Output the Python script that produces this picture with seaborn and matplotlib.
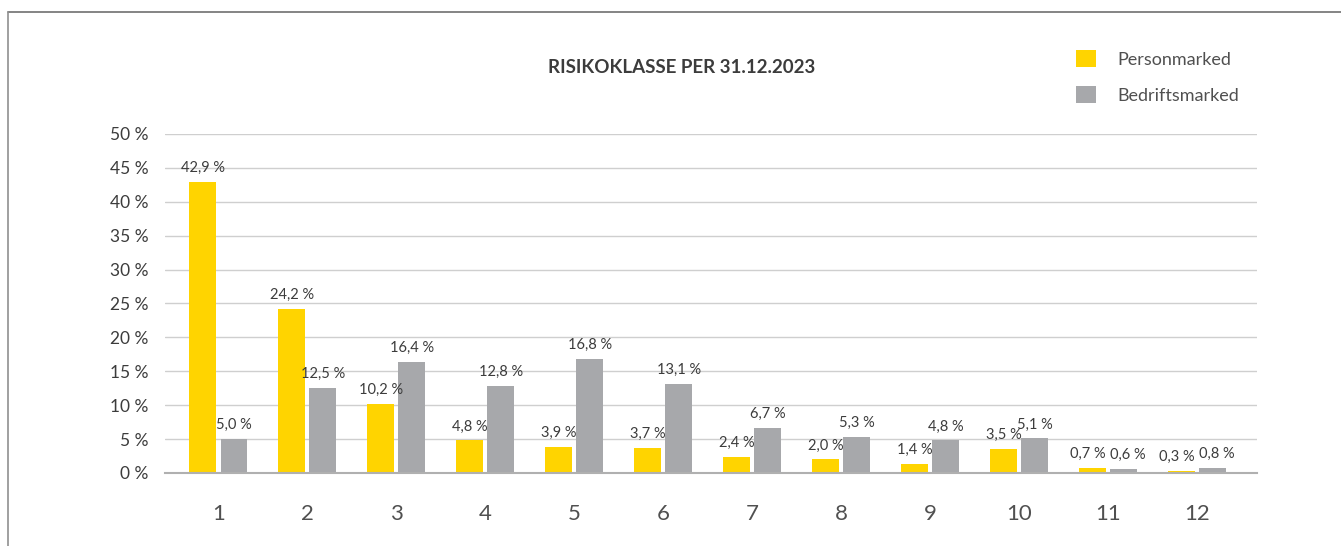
import matplotlib
matplotlib.use("Agg")
import matplotlib.pyplot as plt
from matplotlib.lines import Line2D
from matplotlib.patches import Patch
import pandas as pd
import seaborn as sns

classes = [str(i) for i in range(1, 13)]
personmarked = [42.9, 24.2, 10.2, 4.8, 3.9, 3.7, 2.4, 2.0, 1.4, 3.5, 0.7, 0.3]
bedriftsmarked = [5.0, 12.5, 16.4, 12.8, 16.8, 13.1, 6.7, 5.3, 4.8, 5.1, 0.6, 0.8]
series_names = ["Personmarked", "Bedriftsmarked"]
yticks = [0, 5, 10, 15, 20, 25, 30, 35, 40, 45, 50]

colors = {"Personmarked": "#FFD400", "Bedriftsmarked": "#A7A8AB"}
text_color = "#3C3C3C"

df = pd.DataFrame({
    "klasse": classes * 2,
    "serie": [series_names[0]] * 12 + [series_names[1]] * 12,
    "verdi": personmarked + bedriftsmarked,
})

sns.set_style("white")
plt.rcParams["font.family"] = ["Lato", "DejaVu Sans"]

fig = plt.figure(figsize=(13.41, 5.46), dpi=100)
ax = fig.add_axes([0.123, 0.1337, 0.814, 0.6209])

sns.barplot(
    data=df, x="klasse", y="verdi", hue="serie", order=classes,
    hue_order=series_names, palette=colors, width=0.7, gap=0.14,
    saturation=1, legend=False, linewidth=0, ax=ax,
)

# value labels; nudge apart where both bars in a group are tiny
for k, container in enumerate(ax.containers):
    vals = [b.get_height() for b in container]
    labels = [f"{v:.1f} %".replace(".", ",") for v in vals]
    texts = ax.bar_label(container, labels=labels, padding=5, fontsize=10.5, color=text_color)
    for i, t in enumerate(texts):
        if personmarked[i] < 1 and bedriftsmarked[i] < 1:
            t.xyann = (-3 if k == 0 else 3, 5)

ax.set_xlim(-0.6, 11.67)
ax.set_ylim(0, 50)
ax.set_yticks(yticks)
ax.set_yticklabels([f"{t} %" for t in yticks], fontsize=12.5, color=text_color)
ax.tick_params(axis="x", labelsize=16, colors="#505050", pad=22, length=0)
ax.tick_params(axis="y", length=0, pad=12)
ax.set_xlabel("")
ax.set_ylabel("")
ax.yaxis.grid(True, color="#CFCFCF", linewidth=1)
ax.set_axisbelow(True)
for side in ["top", "right", "left"]:
    ax.spines[side].set_visible(False)
ax.spines["bottom"].set_color("#B0B0B0")
ax.spines["bottom"].set_linewidth(1.5)

fig.text(0.508, 0.877, "RISIKOKLASSE PER 31.12.2023", ha="center", va="center",
         fontsize=13.5, fontweight="bold", color=text_color)

handles = [Patch(facecolor=colors[s], edgecolor="none") for s in series_names]
fig.legend(handles, series_names, loc="upper left", bbox_to_anchor=(0.7905, 0.938),
           frameon=False, fontsize=13, handlelength=1.1, handleheight=1.1,
           handletextpad=1.2, labelspacing=1.0, labelcolor="#505050")

# outer frame lines
fig.add_artist(Line2D([8 / 1341, 1], [1 - 12 / 546] * 2, color="#707070", linewidth=1.2))
fig.add_artist(Line2D([8 / 1341] * 2, [0, 1 - 12 / 546], color="#909090", linewidth=1.2))

fig.savefig("out.png", dpi=100)
